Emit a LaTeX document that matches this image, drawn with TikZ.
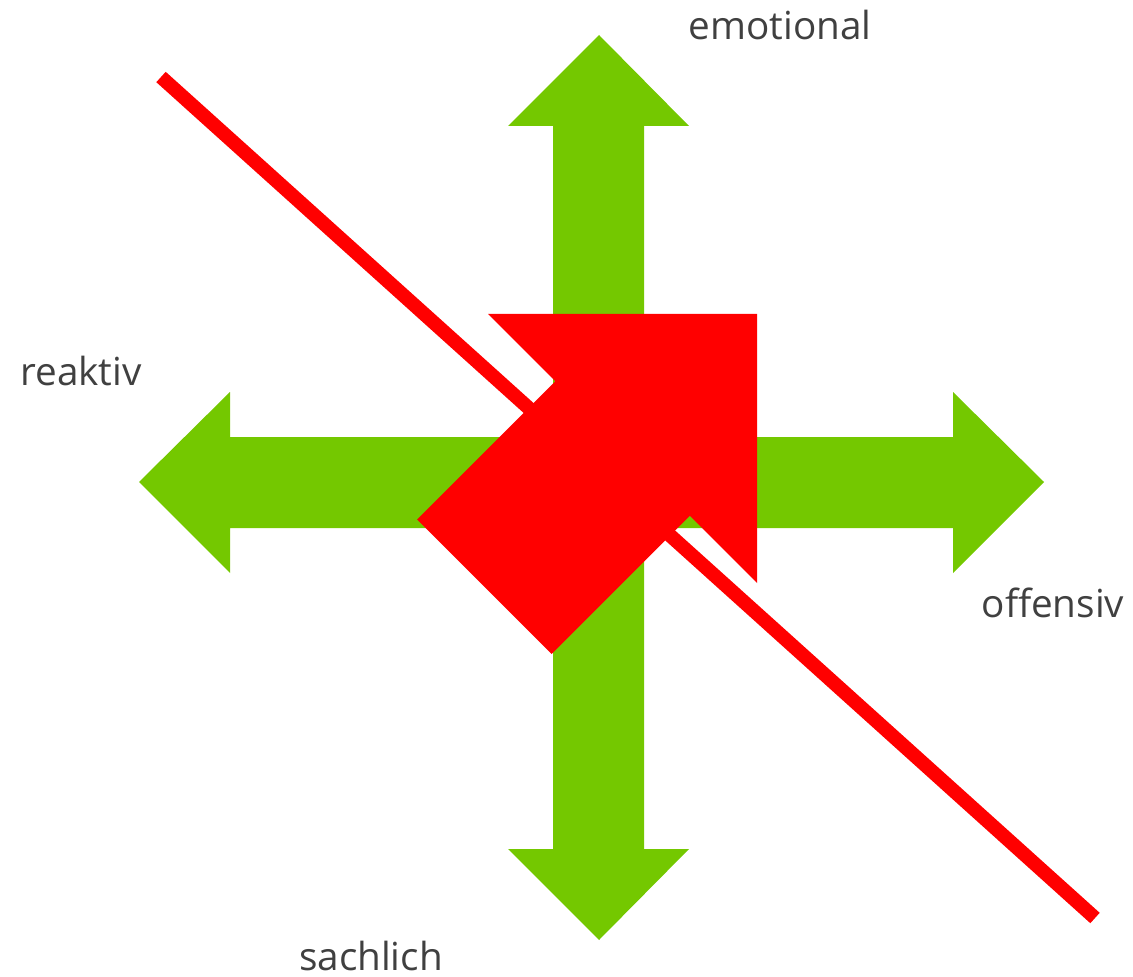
\documentclass[tikz,border=0pt]{standalone}
\usepackage{fontspec}
\setmainfont{Open Sans}
\definecolor{agreen}{RGB}{116,200,0}
\definecolor{ared}{RGB}{255,0,0}
\definecolor{labelgray}{RGB}{64,64,64}
\begin{document}
\begin{tikzpicture}[x=0.75pt,y=-0.75pt,
  greenarrow/.style={fill=agreen,draw=none},
  redshape/.style={fill=ared,draw=none},
  redline/.style={draw=ared,line width=10.5pt,line cap=butt},
  lbl/.style={text=labelgray,font=\fontsize{29}{34}\selectfont,anchor=base,inner sep=0pt}]
\useasboundingbox (0,0) rectangle (1133,977);
% green vertical double arrow
\fill[greenarrow] (553,126) -- (508,126) -- (599,35) -- (689,126) -- (644,126)
  -- (644,849) -- (689,849) -- (599,940) -- (508,849) -- (553,849) -- cycle;
% green horizontal double arrow
\fill[greenarrow] (230,437) -- (230,392) -- (139,482) -- (230,573) -- (230,528)
  -- (953,528) -- (953,573) -- (1044,482) -- (953,392) -- (953,437) -- cycle;
% red diagonal line
\coordinate (ls) at (161,77);
\coordinate (le) at (1095,918);
\draw[redline] (ls) -- (le);
% red big arrow
\fill[redshape] (757,314) -- (488,314) -- (555.25,381.25) -- (417,519.5)
  -- (551.5,654) -- (689.75,515.75) -- (757,583) -- cycle;
% labels
\node[lbl] (emo) at (780,40) {emotional};
\node[lbl] (rea) at (81,385) {reaktiv};
\node[lbl] (off) at (1053,617) {offensiv};
\node[lbl] (sac) at (371,970) {sachlich};
\end{tikzpicture}
\end{document}
